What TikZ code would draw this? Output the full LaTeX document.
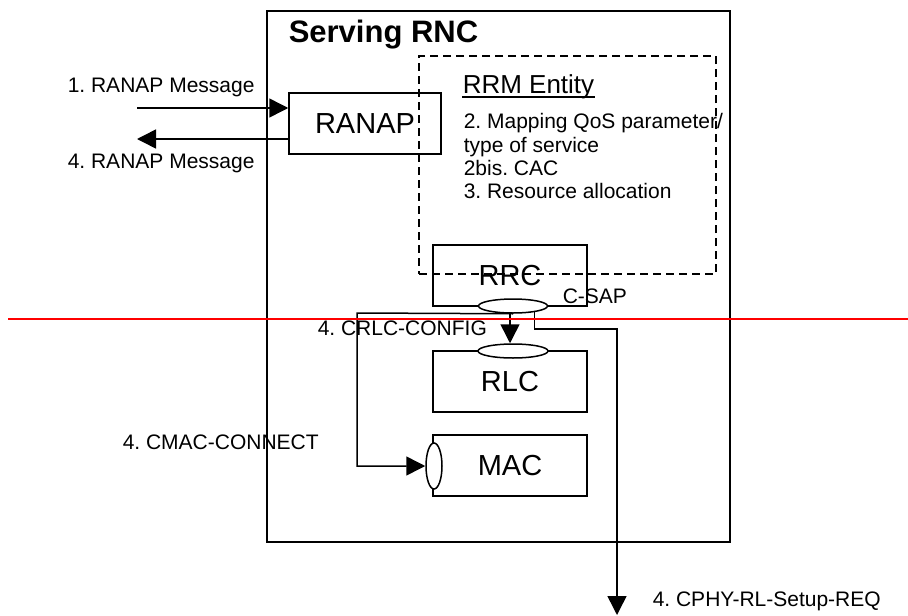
\documentclass[tikz,border=0pt]{standalone}
\usepackage{fontspec}
\setmainfont{Liberation Sans}
\usetikzlibrary{arrows.meta,shapes.geometric,calc}
\frenchspacing
\begin{document}
\begin{tikzpicture}[x=1pt,y=-1pt,
  line width=1.5pt,
  lbl/.style={inner sep=0pt,anchor=base west,font=\fontsize{21}{23.5}\selectfont},
  boxtxt/.style={draw,rectangle,inner sep=0pt,minimum width=154pt,minimum height=61pt,font=\fontsize{29}{32}\selectfont},
  sap/.style={draw,ellipse,fill=white,inner sep=0pt},
  arr/.style={-{Triangle[length=19pt,width=19pt]}}
]
\useasboundingbox (0,0) rectangle (908,616);

% Serving RNC frame
\node[draw,rectangle,minimum width=463pt,minimum height=531pt,inner sep=0pt] (rnc) at (498.5,276.5) {};
\node[inner sep=0pt,anchor=base west,font=\fontsize{31}{34}\selectfont\bfseries] (title) at (288,42) {Serving RNC};

% boxes
\node[boxtxt,minimum width=152pt] (ranap) at (365,123.5) {RANAP};
\node[boxtxt] (rrc) at (510,275.5) {RRC};
\node[boxtxt] (rlc) at (510,381.5) {RLC};
\node[boxtxt] (mac) at (510,465.5) {MAC};

% RRM entity
\node[draw,dashed,dash pattern=on 8pt off 5pt,rectangle,minimum width=297pt,minimum height=218pt,inner sep=0pt] (rrm) at (567.5,165) {};
\node[inner sep=0pt,anchor=base west,font=\fontsize{26}{29}\selectfont] (rrmtitle) at (462,93) {RRM Entity};
\draw ($(rrmtitle.base west)+(0,4)$) -- ($(rrmtitle.base east)+(0,4)$);
\node[lbl] (rrm1) at (463,128) {2. Mapping QoS parameter/};
\node[lbl] (rrm2) at (463,152) {type of service};
\node[lbl] (rrm3) at (463,175) {2bis. CAC};
\node[lbl] (rrm4) at (463,198) {3. Resource allocation};

% SAPs
\node[sap,minimum width=69pt,minimum height=14pt] (csap) at (513,306) {};
\node[sap,minimum width=70pt,minimum height=14pt] (rlcsap) at (513,351) {};
\node[sap,minimum width=16pt,minimum height=46pt] (macsap) at (434,466) {};

% RANAP messages
\coordinate (in1) at (137,108);
\coordinate (out1) at (137,139);
\draw[arr] (in1) -- (in1 -| ranap.west);
\draw[arr] (out1 -| ranap.west) -- (out1);
\node[lbl] (l1) at (67,92) {1. RANAP Message};
\node[lbl] (l4) at (67,168) {4. RANAP Message};

% C-SAP connectors
\node[lbl] (csaplbl) at (562,303) {C-SAP};
\draw[arr] (rrc.south |- csap.south) -- (rrc.south |- rlcsap.north);
\node[lbl] (crlc) at (317,335) {4. CRLC-CONFIG};
\coordinate (lc) at (357,313);
\draw[arr] (csap.south) -- (lc) |- (macsap.west);
\node[lbl] (cmac) at (122,449) {4. CMAC-CONNECT};
\coordinate (rc) at (617,329);
\coordinate (cphyend) at (617,615);
\draw[arr] (csap.-16) |- (rc) -- (cphyend);
\node[lbl] (cphy) at (652,606) {4. CPHY-RL-Setup-REQ};

% red line
\coordinate (r1) at (8,318.5);
\coordinate (r2) at (908,318.5);
\draw[red,line width=2pt] (r1) -- (r2);
\end{tikzpicture}
\end{document}
